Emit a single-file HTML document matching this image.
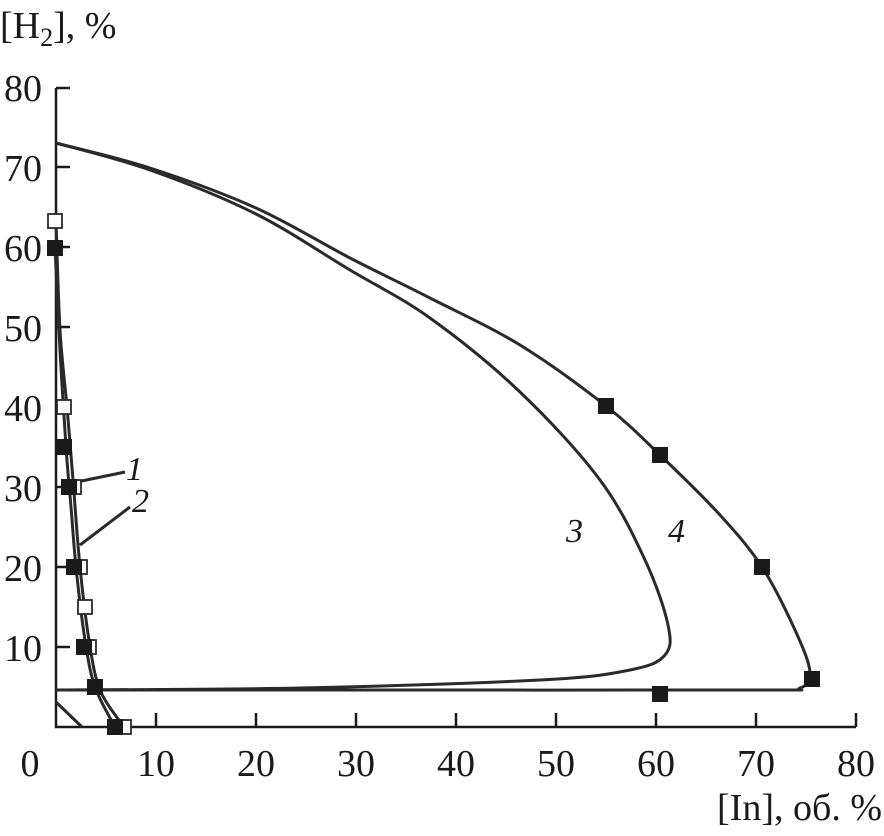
<!DOCTYPE html><html><head><style>body{margin:0;background:#fff}svg{display:block}text{font-family:"Liberation Serif",serif;fill:#1a1a1a}</style></head><body>
<svg id="s" width="884" height="836" viewBox="0 0 884 836">
<g stroke="#1a1a1a" stroke-width="2.5" fill="none">
<path d="M56 88V727H856"/>
<path d="M56 88h14M56 167h14M56 247h14M56 327h14M56 407h14M56 487h14M56 567h14M56 647h14"/>
<path d="M156 727v-14M256 727v-14M356 727v-14M456 727v-14M556 727v-14M656 727v-14M756 727v-14M856 727v-14"/>
</g>
<g id="cv" stroke="#2a2a2a" stroke-width="3" fill="none">
<path d="M56 702L82 727"/>
<path d="M72 483L125 472M80 545L130 507"/>
</g>
<g fill="#fff" stroke="#2a2a2a" stroke-width="1.8">
<rect x="48" y="214" width="14" height="14"/><rect x="57" y="400" width="14" height="14"/><rect x="67" y="480" width="14" height="14"/><rect x="73" y="560" width="14" height="14"/><rect x="78" y="600" width="14" height="14"/><rect x="82" y="640" width="14" height="14"/><rect x="117" y="720" width="14" height="14"/>
</g>
<g fill="#1a1a1a">
<rect x="47" y="240" width="16" height="16"/><rect x="56" y="439" width="16" height="16"/><rect x="61" y="479" width="16" height="16"/><rect x="66" y="559" width="16" height="16"/><rect x="76" y="639" width="16" height="16"/><rect x="87" y="679" width="16" height="16"/><rect x="107" y="719" width="16" height="16"/>
<rect x="598" y="398" width="16" height="16"/><rect x="652" y="447" width="16" height="16"/><rect x="754" y="559" width="16" height="16"/><rect x="804" y="671" width="16" height="16"/><rect x="652" y="686" width="16" height="16"/>
</g>
<g font-size="38" text-anchor="end">
<text x="42" y="101">80</text><text x="42" y="181">70</text><text x="42" y="261">60</text><text x="42" y="341">50</text><text x="42" y="421">40</text><text x="42" y="501">30</text><text x="42" y="581">20</text><text x="42" y="661">10</text>
</g>
<g font-size="38" text-anchor="middle">
<text x="30" y="776">0</text><text x="156" y="776">10</text><text x="256" y="776">20</text><text x="356" y="776">30</text><text x="456" y="776">40</text><text x="556" y="776">50</text><text x="656" y="776">60</text><text x="756" y="776">70</text><text x="856" y="776">80</text>
</g>
<text x="0" y="38" font-size="38">[H<tspan font-size="26" dy="8">2</tspan><tspan dy="-8">], %</tspan></text>
<text x="882" y="820" font-size="38" text-anchor="end">[In], об. %</text>
<g font-size="34" font-style="italic">
<text x="126" y="480">1</text><text x="132" y="512">2</text><text x="566" y="542">3</text><text x="668" y="542">4</text>
</g>
</svg>
<script>
function cr(p){var d="M"+p[0][0]+" "+p[0][1];for(var i=0;i<p.length-1;i++){var a=p[i-1]||p[i],b=p[i],c=p[i+1],e=p[i+2]||c;d+="C"+(b[0]+(c[0]-a[0])/6).toFixed(1)+" "+(b[1]+(c[1]-a[1])/6).toFixed(1)+" "+(c[0]-(e[0]-b[0])/6).toFixed(1)+" "+(c[1]-(e[1]-b[1])/6).toFixed(1)+" "+c[0]+" "+c[1];}return d;}
var C=[
[[56,143],[150,168],[256,208],[350,258],[430,298],[520,345],[606,406],[660,455],[720,515],[762,567],[795,630],[810,672],[800,688],[760,690],[400,690],[56,690]],
[[56,143],[150,170],[256,214],[350,270],[430,318],[520,392],[600,480],[645,560],[668,625],[665,655],[630,670],[540,680],[300,688],[56,690]],
[[55,248],[60,350],[66,447],[71,507],[76,567],[85,640],[95,687],[115,727]],
[[56,221],[60,330],[67,407],[73,480],[80,567],[89,640],[100,690],[124,727]]];
var g=document.getElementById("cv");C.forEach(function(p){var e=document.createElementNS("http://www.w3.org/2000/svg","path");e.setAttribute("d",cr(p));g.appendChild(e);});
</script>
</body></html>
